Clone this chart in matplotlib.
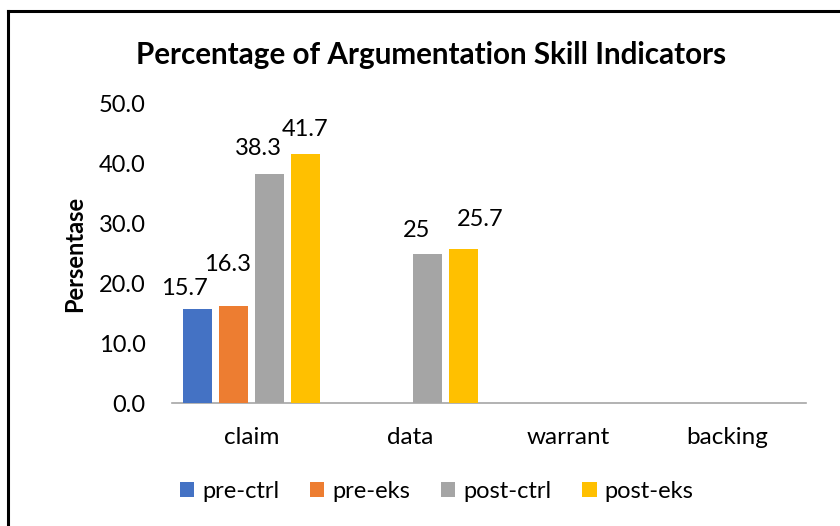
import matplotlib.pyplot as plt
import numpy as np
from matplotlib.lines import Line2D

plt.rcParams['font.family'] = ['Lato', 'DejaVu Sans']

categories = ['claim', 'data', 'warrant', 'backing']
series_names = ['pre-ctrl', 'pre-eks', 'post-ctrl', 'post-eks']
pre_ctrl = [15.7, np.nan, np.nan, np.nan]
pre_eks = [16.3, np.nan, np.nan, np.nan]
post_ctrl = [38.3, 25, np.nan, np.nan]
post_eks = [41.7, 25.7, np.nan, np.nan]
colors = ['#4472C4', '#ED7D31', '#A5A5A5', '#FFC000']

# hand-nudged label offsets (points) as in the original chart, per series per category
nudges = [
    [(-9, 10), None, None, None],
    [(-4, 25), None, None, None],
    [(-8, 14), (-8, 12), None, None],
    [(0, 13), (12, 17), None, None],
]

fig = plt.figure(figsize=(8.4, 5.26), dpi=100)
ax = fig.add_axes([0.2048, 0.2338, 0.7547, 0.5685])

x = np.arange(len(categories))
step = 0.227
width = 0.186
for i, (name, vals) in enumerate(zip(series_names, [pre_ctrl, pre_eks, post_ctrl, post_eks])):
    pos = x + (i - 1.5) * step
    ax.bar(pos, vals, width=width, color=colors[i], label=name, zorder=3)
    for j, (xp, v) in enumerate(zip(pos, vals)):
        if not np.isnan(v):
            ax.annotate('%g' % v, (xp, v), xytext=nudges[i][j], textcoords='offset points',
                        ha='center', va='baseline', fontsize=17)

ax.set_xlim(-0.5, len(categories) - 0.5)
ax.set_ylim(0, 50)
ax.set_yticks(np.arange(0, 51, 10))
ax.set_yticklabels(['%.1f' % t for t in np.arange(0, 51, 10)], fontsize=17)
ax.set_xticks(x)
ax.set_xticklabels(categories, fontsize=17.5)
ax.tick_params(axis='both', length=0)
ax.tick_params(axis='x', pad=17)
ax.tick_params(axis='y', pad=19)
for s in ['top', 'right', 'left']:
    ax.spines[s].set_visible(False)
ax.spines['bottom'].set_color('#A6A6A6')
ax.spines['bottom'].set_linewidth(1.2)

ax.set_ylabel('Persentase', fontsize=17, fontweight='bold', labelpad=9)
fig.text(0.513, 0.895, 'Percentage of Argumentation Skill Indicators',
         ha='center', va='center', fontsize=21.3, fontweight='bold')

fig.legend(loc='center', bbox_to_anchor=(0.52, 0.065), ncol=4, frameon=False,
           fontsize=17, handlelength=0.6, handleheight=0.6, handletextpad=0.35,
           columnspacing=1.3)

# outer frame (left and top only)
fig.add_artist(Line2D([0.009, 1.0], [0.979, 0.979], color='black', lw=2.2, transform=fig.transFigure))
fig.add_artist(Line2D([0.0095, 0.0095], [0.0, 0.979], color='black', lw=2.2, transform=fig.transFigure))

fig.savefig('out.png', dpi=100, facecolor='white')
